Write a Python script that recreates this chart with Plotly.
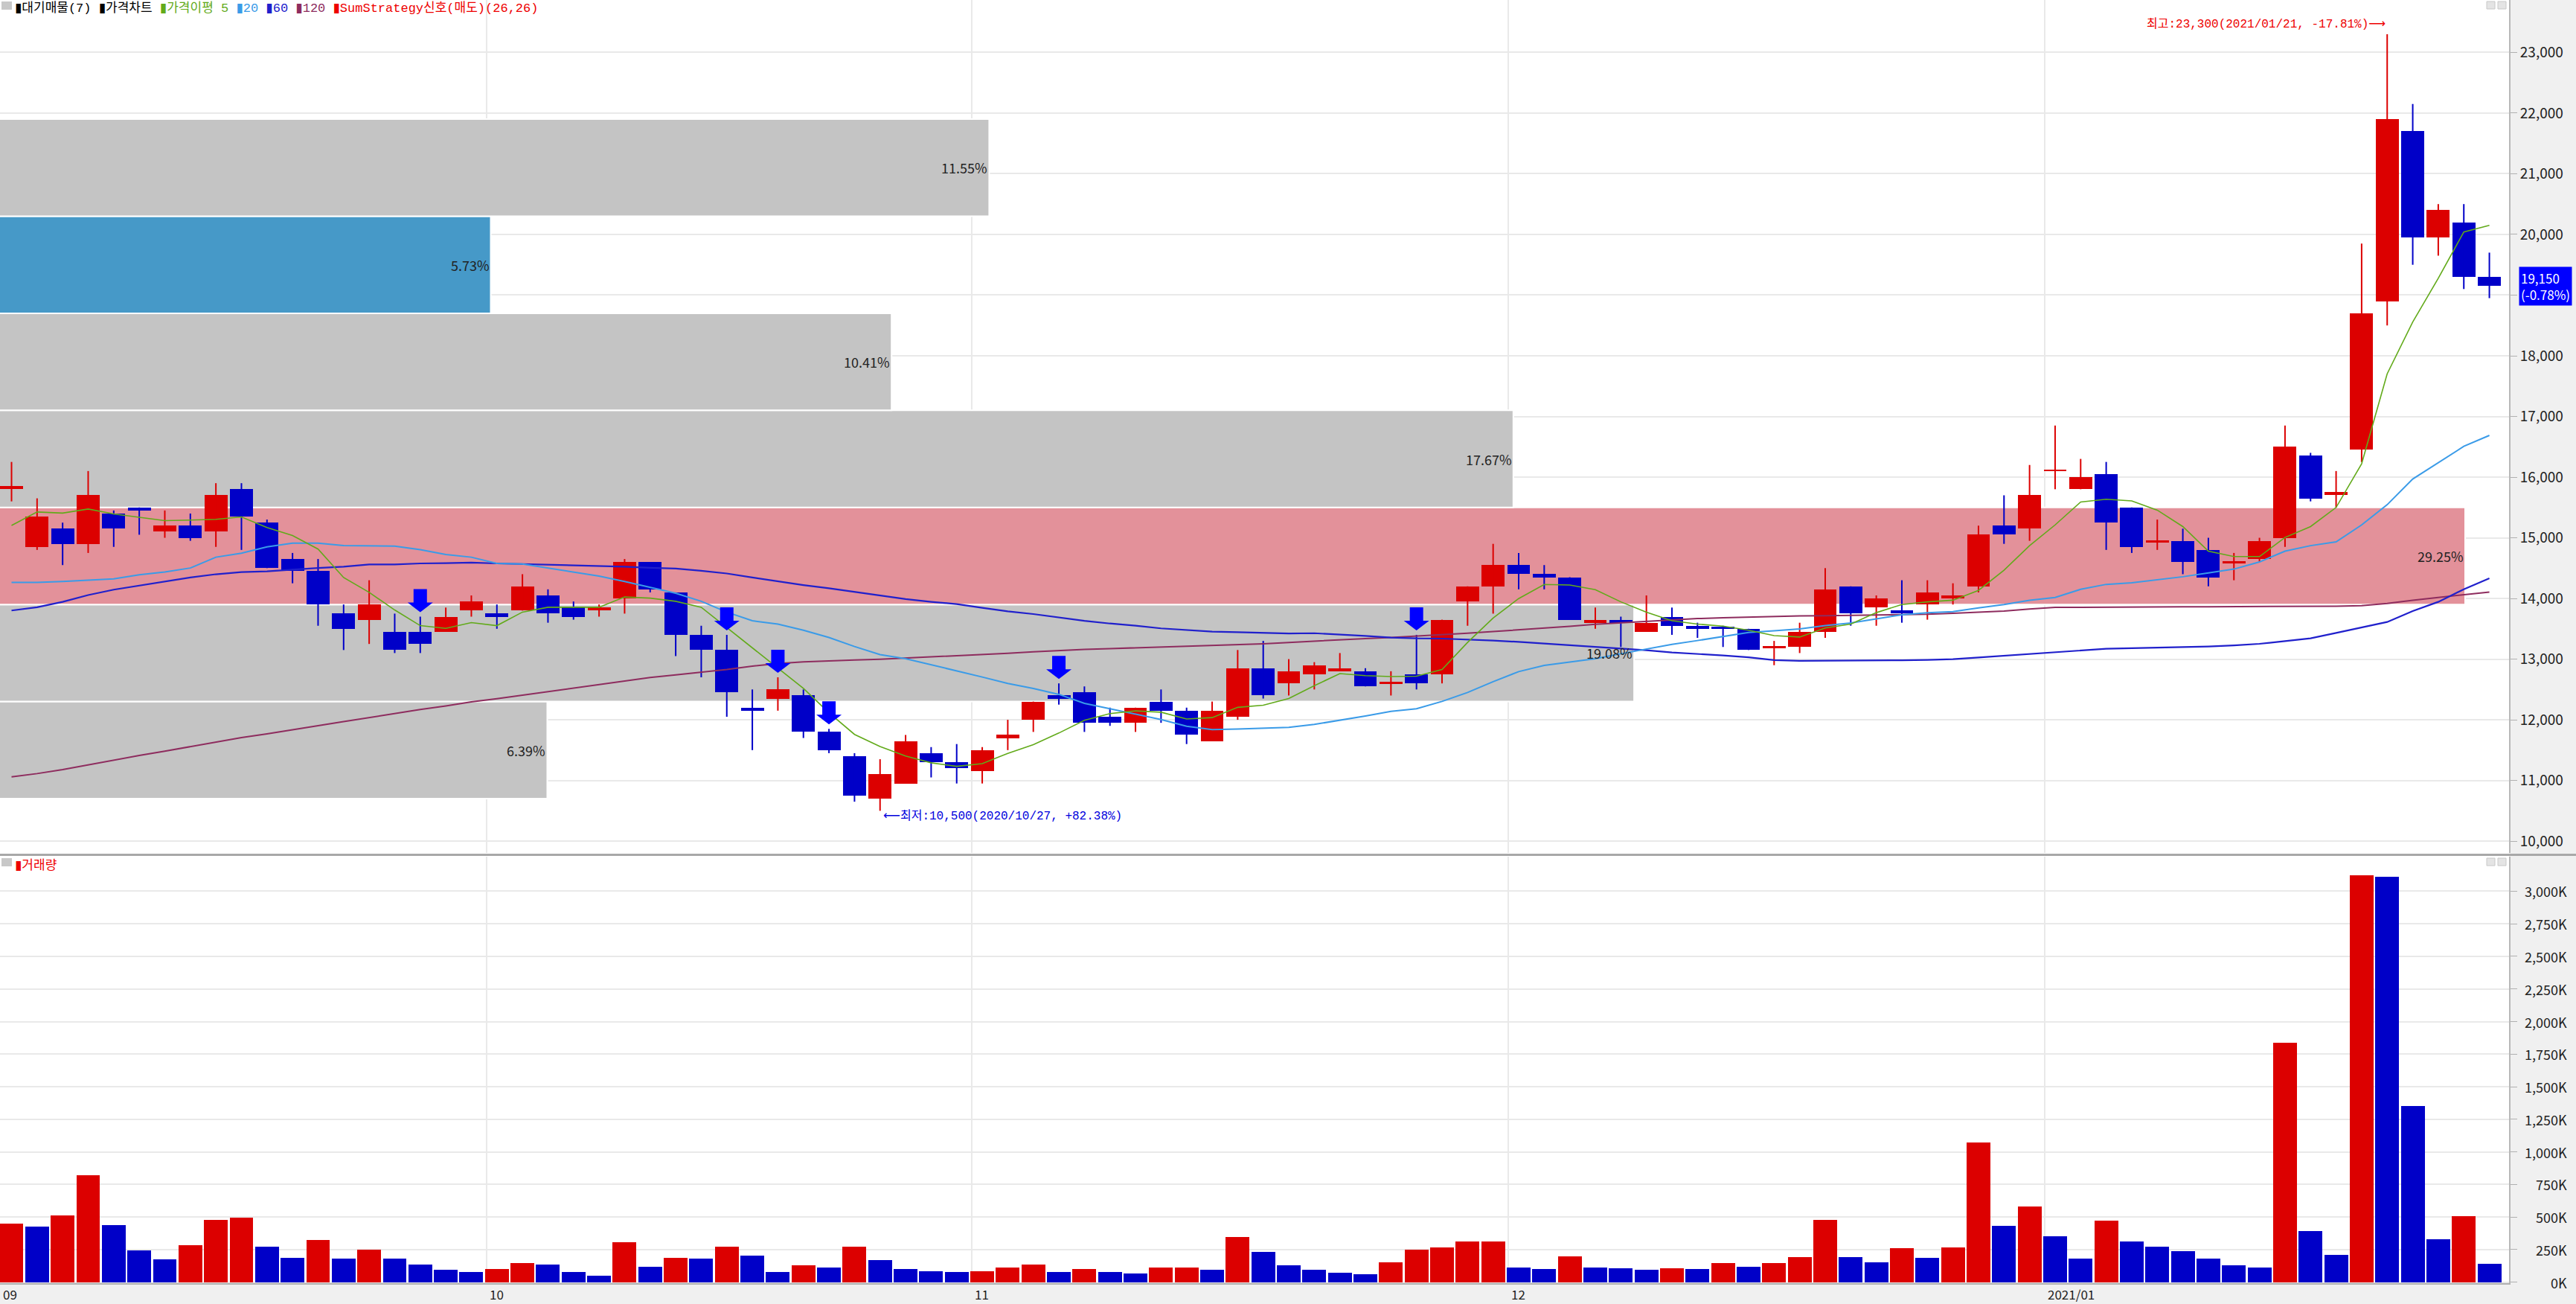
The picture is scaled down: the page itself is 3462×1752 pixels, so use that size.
import plotly.graph_objects as go

# ---------------- data ----------------
OPEN = [15800, 14850, 15150, 14900, 15400, 15500, 15100, 15200, 15100, 15800,
        15250, 14650, 14450, 13750, 13650, 13450, 13450, 13450, 13800, 13750,
        13800, 14050, 13850, 13800, 14000, 14600, 14100, 13400, 13150, 12200,
        12350, 12400, 11800, 11400, 10700, 10950, 11450, 11300, 11150, 11700,
        12000, 12400, 12450, 12050, 11950, 12300, 12150, 11650, 12050, 12850,
        12600, 12750, 12800, 12800, 12600, 12750, 12750, 13950, 14200, 14550,
        14400, 14350, 13600, 13650, 13450, 13700, 13550, 13530, 13500, 13190,
        13200, 13450, 14200, 13850, 13800, 13900, 14000, 14200, 15200, 15150,
        16100, 15800, 16050, 15500, 14930, 14950, 14800, 14590, 14650, 15000,
        16350, 15700, 16450, 18900, 21700, 19950, 20200, 19300]
HIGH = [16250, 15650, 15250, 16100, 15450, 15500, 15450, 15400, 15900, 15900,
        15300, 14750, 14650, 13900, 14300, 13750, 13700, 13850, 14050, 13900,
        14400, 14150, 13950, 13900, 14650, 14600, 14100, 13550, 13400, 12500,
        12700, 12500, 11850, 11450, 11350, 11750, 11550, 11600, 11550, 12000,
        12300, 12600, 12550, 12200, 12200, 12500, 12200, 12300, 13150, 13300,
        13000, 12950, 13100, 12850, 12800, 13400, 13650, 14200, 14900, 14750,
        14550, 14350, 13850, 13700, 14050, 13850, 13600, 13550, 13500, 13300,
        13600, 14500, 14200, 14050, 14300, 14300, 14250, 15200, 15700, 16200,
        16850, 16300, 16250, 15500, 15300, 15150, 15000, 14750, 15000, 16850,
        16400, 16100, 19850, 23300, 22150, 20500, 20500, 19700]
LOW = [15600, 14800, 14550, 14750, 14850, 15050, 15000, 14950, 14850, 14800,
       14500, 14250, 13550, 13150, 13250, 13100, 13100, 13450, 13700, 13500,
       13800, 13600, 13650, 13700, 13750, 14100, 13050, 12700, 12050, 11500,
       12150, 11700, 11450, 10650, 10500, 10950, 11050, 10950, 10950, 11500,
       11800, 12250, 11800, 11900, 11800, 11950, 11600, 11650, 12000, 12350,
       12400, 12500, 12800, 12550, 12400, 12500, 12600, 13550, 13750, 14150,
       14150, 13650, 13500, 13200, 13450, 13400, 13350, 13200, 13150, 12900,
       13100, 13350, 13550, 13550, 13600, 13650, 13900, 14100, 14900, 14950,
       15800, 15800, 14800, 14750, 14800, 14400, 14200, 14300, 14600, 14850,
       15600, 15500, 16250, 18500, 19500, 19650, 19100, 18950]
CLOSE = [15850, 15350, 14900, 15700, 15150, 15450, 15200, 15000, 15700, 15350,
         14500, 14450, 13900, 13500, 13900, 13150, 13250, 13700, 13950, 13700,
         14200, 13750, 13700, 13850, 14600, 14150, 13400, 13150, 12450, 12150,
         12500, 11800, 11500, 10750, 11100, 11650, 11300, 11200, 11500, 11750,
         12300, 12350, 11950, 11950, 12200, 12150, 11750, 12150, 12850, 12400,
         12800, 12900, 12850, 12550, 12620, 12600, 13650, 14200, 14550, 14400,
         14350, 13650, 13650, 13600, 13600, 13550, 13500, 13500, 13150, 13200,
         13450, 14150, 13750, 14000, 13750, 14100, 14050, 15050, 15050, 15700,
         16120, 16000, 15250, 14850, 14950, 14600, 14350, 14610, 14950, 16500,
         15650, 15750, 18700, 21900, 19950, 20400, 19300, 19150]
VOLUME_K = [452, 427, 513, 820, 437, 241, 173, 283, 478, 497,
            275, 188, 325, 180, 249, 180, 137, 93, 76, 101,
            146, 137, 76, 49, 308, 120, 188, 180, 273, 205,
            76, 127, 110, 273, 171, 101, 85, 76, 85, 110,
            137, 76, 101, 76, 68, 110, 112, 93, 349, 232,
            127, 95, 70, 60, 150, 250, 265, 310, 315, 110,
            100, 200, 115, 105, 95, 105, 100, 145, 120, 145,
            195, 480, 195, 150, 260, 185, 265, 1070, 430, 580,
            350, 180, 470, 310, 275, 240, 180, 130, 110, 1840,
            395, 210, 3120, 3110, 1350, 330, 505, 140]
MA5 = [15202, 15425, 15407, 15474, 15393, 15335, 15282, 15291, 15304, 15344,
       15170, 15037, 14814, 14345, 14100, 13810, 13552, 13507, 13601, 13552,
       13775, 13855, 13855, 13855, 14024, 14005, 13953, 13855, 13521, 13186,
       12852, 12517, 12116, 11759, 11559, 11402, 11291, 11233, 11278, 11447,
       11590, 11782, 11991, 12103, 12147, 12125, 12013, 12036, 12205, 12241,
       12350, 12562, 12762, 12727, 12713, 12718, 12829, 13275, 13677, 13998,
       14230, 14221, 14145, 13944, 13775, 13632, 13578, 13543, 13476, 13387,
       13364, 13512, 13578, 13766, 13900, 13944, 13971, 14133, 14466, 14870,
       15212, 15590, 15635, 15608, 15455, 15185, 14780, 14690, 14690, 15005,
       15185, 15500, 16220, 17703, 18557, 19277, 20041, 20149]
MA20 = [14265, 14265, 14279, 14301, 14323, 14390, 14435, 14502, 14680, 14747,
        14849, 14912, 14912, 14872, 14872, 14863, 14805, 14724, 14680, 14577,
        14568, 14502, 14435, 14368, 14279, 14183, 14087, 13953, 13775, 13632,
        13578, 13476, 13356, 13208, 13075, 13008, 12910, 12807, 12705, 12598,
        12517, 12419, 12272, 12183, 12094, 12004, 11893, 11839, 11848, 11857,
        11875, 11924, 11991, 12062, 12138, 12183, 12303, 12450, 12629, 12794,
        12896, 12954, 13008, 13088, 13164, 13244, 13306, 13373, 13440, 13467,
        13498, 13552, 13596, 13663, 13730, 13765, 13782, 13845, 13899, 13971,
        14016, 14151, 14232, 14259, 14304, 14358, 14421, 14484, 14601, 14780,
        14870, 14933, 15212, 15545, 15968, 16237, 16507, 16687]
MA60 = [13801, 13855, 13944, 14056, 14145, 14212, 14279, 14345, 14399, 14435,
        14448, 14479, 14502, 14524, 14560, 14560, 14577, 14582, 14591, 14577,
        14568, 14555, 14542, 14533, 14524, 14506, 14493, 14457, 14412, 14345,
        14279, 14221, 14167, 14109, 14042, 13989, 13944, 13908, 13846, 13788,
        13743, 13686, 13632, 13587, 13552, 13507, 13476, 13454, 13445, 13431,
        13422, 13427, 13409, 13382, 13356, 13342, 13338, 13324, 13306, 13284,
        13257, 13231, 13204, 13173, 13146, 13110, 13088, 13061, 13030, 12985,
        12972, 12972, 12972, 12977, 12981, 12988, 13000, 13027, 13054, 13090,
        13117, 13144, 13171, 13180, 13189, 13189, 13207, 13225, 13252, 13297,
        13342, 13432, 13522, 13612, 13791, 13944, 14151, 14331]
MA120 = [11059, 11113, 11180, 11260, 11336, 11411, 11483, 11559, 11634, 11706,
         11768, 11839, 11902, 11969, 12036, 12107, 12169, 12227, 12294, 12348,
         12406, 12464, 12526, 12584, 12642, 12696, 12741, 12785, 12829, 12883,
         12928, 12954, 12972, 12985, 12998, 13017, 13035, 13052, 13075, 13097,
         13119, 13141, 13159, 13173, 13186, 13195, 13208, 13222, 13239, 13253,
         13275, 13298, 13320, 13338, 13356, 13378, 13400, 13427, 13454, 13480,
         13507, 13540, 13574, 13598, 13623, 13645, 13668, 13681, 13694, 13703,
         13712, 13716, 13721, 13728, 13735, 13739, 13755, 13773, 13791, 13827,
         13854, 13854, 13858, 13860, 13862, 13863, 13863, 13864, 13865, 13866,
         13868, 13872, 13881, 13917, 13971, 14016, 14061, 14106]

MONTH_LABELS = ["09", "10", "11", "12", "2021/01"]
MONTH_START = [0, 19, 38, 59, 80]
SELL_SIGNAL_IDX = [16, 28, 30, 32, 41, 55]
PROFILE_EDGES = [10700, 12300, 13900, 15500, 17100, 18700, 20300, 21900]
PROFILE_PCT = [6.39, 19.08, 29.25, 17.67, 10.41, 5.73, 11.55]
PRICE_TICKS = [10000, 11000, 12000, 13000, 14000, 15000, 16000, 17000,
               18000, 19000, 20000, 21000, 22000, 23000]
VOL_TICKS_K = [0, 250, 500, 750, 1000, 1250, 1500, 1750, 2000, 2250, 2500, 2750, 3000]
HIGH_DATE = "2021/01/21"
LOW_DATE = "2020/10/27"
LAST_CHANGE_PCT = -0.78

# ---------------- geometry / style ----------------
W, H = 3462, 1752
MR, MB = 90, 28
PLOT_W, PLOT_H = W - MR, H - MB
PRICE_BOTTOM_PX = 1146
VOL_TOP_PX = 1151
N = len(CLOSE)
X_RANGE = [-0.4515, N - 1 + 0.77]
PX_PER_BAR = PLOT_W / (X_RANGE[1] - X_RANGE[0])
PRICE_RANGE = [9805, 23864]
VOL_RANGE = [-7.5, 3265]

RED = "#DC0000"
BLUE = "#0000C8"
GRID = "#E9E9E9"
AXBG = "#F0F0F0"
FONT = "Noto Sans CJK KR"
MONO = "Liberation Mono, Noto Sans CJK KR, DejaVu Sans"

idx = list(range(N))
price_dom = [(PLOT_H - PRICE_BOTTOM_PX) / PLOT_H, 1.0]
vol_dom = [0.0, (PLOT_H - VOL_TOP_PX) / PLOT_H]

fig = go.Figure()

# candle bodies
MIN_BODY = 35
base, hgt, ccol = [], [], []
for o, c in zip(OPEN, CLOSE):
    lo, hi = min(o, c), max(o, c)
    if hi - lo < MIN_BODY:
        mid = (hi + lo) / 2
        lo, hi = mid - MIN_BODY / 2, mid + MIN_BODY / 2
    base.append(lo)
    hgt.append(hi - lo)
    ccol.append(RED if c > o else BLUE)

# wicks
for col in (RED, BLUE):
    xs, ys = [], []
    for i in idx:
        if ccol[i] == col:
            xs += [i, i, None]
            ys += [LOW[i], HIGH[i], None]
    fig.add_trace(go.Scatter(x=xs, y=ys, mode="lines", line=dict(color=col, width=2),
                             hoverinfo="skip", xaxis="x", yaxis="y"))

fig.add_trace(go.Bar(x=idx, y=hgt, base=base, width=0.9,
                     marker=dict(color=ccol, line=dict(width=0)),
                     xaxis="x", yaxis="y", hoverinfo="skip"))

# moving averages
for vals, col, w in ((MA120, "#8E2C5E", 2), (MA60, "#2020CC", 2.2),
                     (MA20, "#3A9BE8", 2), (MA5, "#62AA1A", 1.6)):
    fig.add_trace(go.Scatter(x=idx, y=vals, mode="lines", line=dict(color=col, width=w),
                             hoverinfo="skip", xaxis="x", yaxis="y"))

# volume
vcol = [RED if (i > 0 and VOLUME_K[i] > VOLUME_K[i - 1]) or (i == 0 and ccol[0] == RED) else BLUE
        for i in idx]
fig.add_trace(go.Bar(x=idx, y=VOLUME_K, width=0.93, marker=dict(color=vcol, line=dict(width=0)),
                     xaxis="x2", yaxis="y2", hoverinfo="skip"))

shapes = []
annotations = []

# volume-profile boxes (대기매물): width proportional to share, capped near the right edge
last_price = CLOSE[-1]
max_pct = max(PROFILE_PCT)
BOX_PX_PER_PCT = 115.1
BOX_MAX_PX = PLOT_W - 59
for k, pct in enumerate(PROFILE_PCT):
    y0, y1 = PROFILE_EDGES[k], PROFILE_EDGES[k + 1]
    right = X_RANGE[0] + min(BOX_PX_PER_PCT * pct, BOX_MAX_PX) / PX_PER_BAR
    if pct == max_pct:
        fc = "#E3919A"
    elif y0 <= last_price < y1:
        fc = "#4699C8"
    else:
        fc = "#C4C4C4"
    shapes.append(dict(type="rect", xref="x", yref="y", x0=X_RANGE[0] - 1, x1=right, y0=y0, y1=y1,
                       fillcolor=fc, line=dict(color="white", width=2), layer="between"))
    annotations.append(dict(x=right, y=(y0 + y1) / 2, xref="x", yref="y", xanchor="right",
                            yanchor="middle", showarrow=False, text=f"{pct:.2f}%",
                            font=dict(family=FONT, size=18, color="#222222")))

# sell-signal arrows
ARROW = "M -9 37 L 9 37 L 9 19 L 17 19 L 0 6 L -17 19 L -9 19 Z"
for i in SELL_SIGNAL_IDX:
    shapes.append(dict(type="path", xref="x", yref="y", xsizemode="pixel", ysizemode="pixel",
                       xanchor=i, yanchor=HIGH[i], path=ARROW, fillcolor="#0000FF",
                       line=dict(width=0), layer="above"))

# axis strips
xr = W / PLOT_W
yb = -MB / PLOT_H
shapes.append(dict(type="rect", xref="paper", yref="paper", x0=1, x1=xr, y0=yb, y1=1,
                   fillcolor=AXBG, line=dict(width=0), layer="below"))
shapes.append(dict(type="rect", xref="paper", yref="paper", x0=0, x1=xr, y0=yb, y1=0,
                   fillcolor=AXBG, line=dict(width=0), layer="below"))
sep_y = (PLOT_H - 1148.5) / PLOT_H
shapes.append(dict(type="line", xref="paper", yref="paper", x0=0, x1=xr, y0=sep_y, y1=sep_y,
                   line=dict(color="#A8A8A8", width=3), layer="above"))
# small panel icons
for top_px in (2, 1153):
    shapes.append(dict(type="rect", xref="paper", yref="paper", x0=2 / PLOT_W, x1=16 / PLOT_W,
                       y0=(PLOT_H - top_px - 11) / PLOT_H, y1=(PLOT_H - top_px) / PLOT_H,
                       fillcolor="#C8C8C8", line=dict(width=0), layer="above"))
    for x0 in (3342, 3357):
        shapes.append(dict(type="rect", xref="paper", yref="paper", x0=x0 / PLOT_W,
                           x1=(x0 + 11) / PLOT_W, y0=(PLOT_H - top_px - 10) / PLOT_H,
                           y1=(PLOT_H - top_px) / PLOT_H, fillcolor="#E4E4E4",
                           line=dict(color="#C8C8C8", width=1), layer="above"))

# month labels on x axis
grid_x = [s - 0.4 for s in MONTH_START[1:]]
for lab, s in zip(MONTH_LABELS, MONTH_START):
    xpos = X_RANGE[0] if s == 0 else s - 0.4
    annotations.append(dict(x=xpos, y=yb / 2, xref="x2", yref="paper", xanchor="left",
                            yanchor="middle", showarrow=False, text=lab, xshift=2,
                            font=dict(family=FONT, size=17, color="#222222")))

# volume axis labels (right aligned)
for v in VOL_TICKS_K:
    annotations.append(dict(x=3452 / PLOT_W, y=v, xref="paper", yref="y2", xanchor="right",
                            yanchor="middle", showarrow=False, text=f"{v:,}K",
                            font=dict(family=FONT, size=18, color="#222222")))

# price axis labels: the last-price tag covers the nearest one
price_text = ["" if abs(t - CLOSE[-1]) < 400 else f"{t:,}" for t in PRICE_TICKS]

# legends
leg = ("<span style='color:#000000'>▮대기매물(7) </span>"
       "<span style='color:#000000'>▮가격차트 </span>"
       "<span style='color:#62AA1A'>▮가격이평 5 </span>"
       "<span style='color:#3A9BE8'>▮20 </span>"
       "<span style='color:#2020CC'>▮60 </span>"
       "<span style='color:#8E2C5E'>▮120 </span>"
       "<span style='color:#EE0000'>▮SumStrategy신호(매도)(26,26)</span>")
annotations.append(dict(x=0, y=1, xref="paper", yref="paper", xanchor="left", yanchor="top",
                        xshift=18, yshift=1, showarrow=False, text=leg,
                        font=dict(family=MONO, size=17)))
annotations.append(dict(x=0, y=vol_dom[1], xref="paper", yref="paper", xanchor="left",
                        yanchor="top", xshift=18, yshift=0, showarrow=False,
                        text="<span style='color:#EE0000'>▮거래량</span>",
                        font=dict(family=MONO, size=17)))

# high / low notes
ih = HIGH.index(max(HIGH))
il = LOW.index(min(LOW))
hi_pct = (last_price / HIGH[ih] - 1) * 100
lo_pct = (last_price / LOW[il] - 1) * 100
annotations.append(dict(x=ih, y=HIGH[ih], xref="x", yref="y", xanchor="right", yanchor="middle",
                        yshift=13, showarrow=False,
                        text=f"최고:{HIGH[ih]:,}({HIGH_DATE}, {hi_pct:+.2f}%)⟶",
                        font=dict(family=MONO, size=16, color="#EE0000")))
annotations.append(dict(x=il, y=LOW[il], xref="x", yref="y", xanchor="left", yanchor="middle",
                        yshift=-7, xshift=2, showarrow=False,
                        text=f"⟵최저:{LOW[il]:,}({LOW_DATE}, {lo_pct:+.2f}%)",
                        font=dict(family=MONO, size=16, color="#0000DD")))

# last price tag
annotations.append(dict(x=3385 / PLOT_W, y=last_price, xref="paper", yref="y", xanchor="left",
                        yanchor="middle", showarrow=False, align="left",
                        text=f"{last_price:,}<br>({LAST_CHANGE_PCT:+.2f}%)",
                        bgcolor="#0000FF", borderpad=2,
                        font=dict(family=FONT, size=17, color="white")))

fig.update_layout(
    width=W, height=H, margin=dict(l=0, r=MR, t=0, b=MB, pad=0),
    paper_bgcolor="white", plot_bgcolor="white", showlegend=False,
    barmode="overlay", bargap=0,
    xaxis=dict(domain=[0, 1], range=X_RANGE, anchor="y", tickvals=grid_x, showticklabels=False,
               ticks="", showgrid=True, gridcolor=GRID, gridwidth=2, zeroline=False,
               showline=False),
    xaxis2=dict(domain=[0, 1], range=X_RANGE, anchor="y2", matches="x", tickvals=grid_x,
                showticklabels=False, ticks="", showgrid=True, gridcolor=GRID, gridwidth=2,
                zeroline=False, showline=True, linecolor="#B0B0B0", linewidth=2),
    yaxis=dict(domain=price_dom, range=PRICE_RANGE, anchor="x", side="right",
               tickvals=PRICE_TICKS, ticktext=price_text, ticks="outside", ticklen=9,
               tickcolor="#B0B0B0", tickwidth=1, showgrid=True, gridcolor=GRID, gridwidth=2,
               zeroline=False, showline=True, linecolor="#B8B8B8", linewidth=2,
               tickfont=dict(family=FONT, size=19, color="#222222")),
    yaxis2=dict(domain=vol_dom, range=VOL_RANGE, anchor="x2", side="right",
                tickvals=VOL_TICKS_K, showticklabels=False, ticks="outside", ticklen=9,
                tickcolor="#B0B0B0", showgrid=True, gridcolor=GRID, gridwidth=2,
                zeroline=False, showline=True, linecolor="#B8B8B8", linewidth=2),
    shapes=shapes, annotations=annotations,
)

fig.write_html("out.html", config={"displayModeBar": False},
               post_script="document.body.style.margin='0';document.body.style.overflow='hidden';")
